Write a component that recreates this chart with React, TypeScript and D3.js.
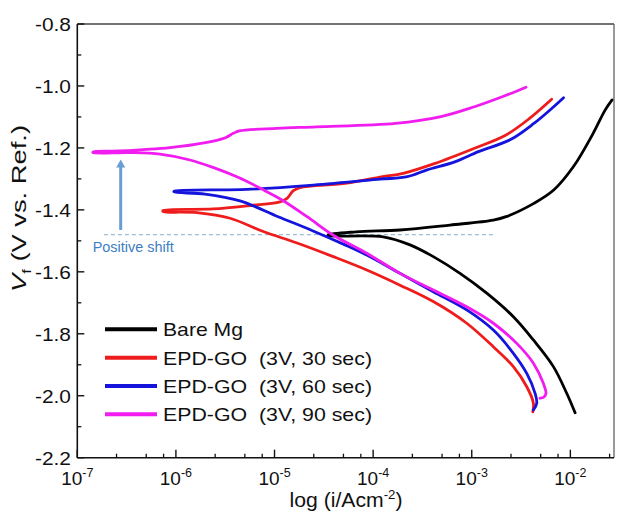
import React from "react";
import * as d3 from "d3";

const W = 617;
const H = 514;
const M = { left: 77.3, right: 3, top: 24, bottom: 56.3 };

// x domain (current density, A/cm2) and y domain (potential, V)
const X_DOMAIN: [number, number] = [1e-7, 0.0277];
const Y_DOMAIN: [number, number] = [-2.2, -0.8];

const X_MAJOR_EXP = [-7, -6, -5, -4, -3, -2];
const X_MINOR_MANT = [2.5, 5, 7.5];
const Y_MAJOR = [-2.2, -2.0, -1.8, -1.6, -1.4, -1.2, -1.0, -0.8];
const Y_MINOR = [-2.1, -1.9, -1.7, -1.5, -1.3, -1.1, -0.9];

// ---- data: log10(i) and potential V, cathodic branch (from Ecorr outward) and anodic branch
const bareCathLogI = [-4.457, -3.897, -3.626, -3.39, -3.119, -2.848, -2.578, -2.375, -2.172, -2.037, -1.952];
const bareCathV = [-1.483, -1.487, -1.513, -1.551, -1.605, -1.669, -1.745, -1.82, -1.906, -1.992, -2.055];
const bareAnLogI = [-4.457, -4.174, -3.727, -3.22, -2.781, -2.652, -2.37, -2.169, -1.97, -1.769, -1.648, -1.577];
const bareAnV = [-1.481, -1.471, -1.465, -1.449, -1.433, -1.422, -1.379, -1.336, -1.261, -1.153, -1.078, -1.045];

const go30CathLogI = [-6.131, -5.786, -5.451, -5.114, -4.772, -4.404, -4.065, -3.727, -3.39, -3.051, -2.781, -2.578, -2.442, -2.375, -2.381];
const go30CathV = [-1.405, -1.409, -1.427, -1.47, -1.507, -1.551, -1.594, -1.643, -1.696, -1.766, -1.842, -1.906, -1.971, -2.024, -2.052];
const go30AnLogI = [-6.131, -5.624, -5.279, -4.944, -4.873, -4.809, -4.741, -4.268, -3.93, -3.694, -3.372, -2.972, -2.652, -2.411, -2.19];
const go30AnV = [-1.402, -1.397, -1.387, -1.374, -1.363, -1.338, -1.328, -1.314, -1.294, -1.282, -1.25, -1.201, -1.158, -1.104, -1.043];

const go60CathLogI = [-6.019, -5.705, -5.35, -4.964, -4.609, -4.285, -4.065, -3.727, -3.39, -3.051, -2.781, -2.578, -2.442, -2.358, -2.341, -2.375];
const go60CathV = [-1.342, -1.349, -1.371, -1.422, -1.468, -1.513, -1.546, -1.605, -1.664, -1.723, -1.788, -1.863, -1.928, -1.992, -2.024, -2.046];
const go60AnLogI = [-6.019, -5.282, -4.606, -3.93, -3.653, -3.453, -3.172, -2.932, -2.612, -2.37, -2.169, -2.069];
const go60AnV = [-1.34, -1.334, -1.32, -1.301, -1.293, -1.271, -1.245, -1.212, -1.174, -1.121, -1.067, -1.038];

const go90CathLogI = [-6.841, -6.466, -6.161, -5.857, -5.624, -5.37, -5.127, -4.924, -4.67, -4.407, -4.065, -3.727, -3.39, -3.051, -2.781, -2.544, -2.375, -2.274, -2.247, -2.267, -2.307];
const go90CathV = [-1.215, -1.215, -1.22, -1.239, -1.263, -1.295, -1.333, -1.368, -1.422, -1.481, -1.54, -1.605, -1.659, -1.713, -1.766, -1.831, -1.895, -1.96, -1.992, -2.004, -2.008];
const go90AnLogI = [-6.841, -6.581, -6.06, -5.699, -5.498, -5.418, -5.358, -4.977, -4.576, -3.774, -3.312, -2.972, -2.691, -2.45];
const go90AnV = [-1.213, -1.21, -1.199, -1.183, -1.167, -1.153, -1.145, -1.137, -1.132, -1.121, -1.099, -1.067, -1.035, -1.004];

const SERIES_LABELS = ["Bare Mg", "EPD-GO  (3V, 30 sec)", "EPD-GO  (3V, 60 sec)", "EPD-GO  (3V, 90 sec)"];
const SERIES_COLORS = ["#000000", "#ee1c1c", "#1414dc", "#f01cf0"];

// annotation (data coordinates)
const SHIFT_V = -1.48;
const SHIFT_LOGI_RANGE = [-6.73, -2.78];
const ARROW_LOGI = -6.56;
const ARROW_V_RANGE = [-1.465, -1.237];

const FONT = "'Liberation Sans', Arial, Helvetica, sans-serif";

type Pt = [number, number];

function branch(logI: number[], v: number[]): Pt[] {
  return logI.map((l, k) => [Math.pow(10, l), v[k]] as Pt);
}

function curve(cl: number[], cv: number[], al: number[], av: number[]): Pt[] {
  const cath = branch(cl, cv).reverse();
  const an = branch(al, av);
  return cath.concat(an);
}

export default function App() {
  const x = d3.scaleLog().domain(X_DOMAIN).range([M.left, W - M.right]);
  const y = d3.scaleLinear().domain(Y_DOMAIN).range([H - M.bottom, M.top]);
  const line = d3
    .line<Pt>()
    .x((d) => x(d[0]))
    .y((d) => y(d[1]))
    .curve(d3.curveCatmullRom.alpha(0.5));

  const series: Pt[][] = [
    curve(bareCathLogI, bareCathV, bareAnLogI, bareAnV),
    curve(go30CathLogI, go30CathV, go30AnLogI, go30AnV),
    curve(go60CathLogI, go60CathV, go60AnLogI, go60AnV),
    curve(go90CathLogI, go90CathV, go90AnLogI, go90AnV),
  ];

  const x0 = M.left;
  const x1 = W - M.right;
  const y0 = M.top;
  const y1 = H - M.bottom;

  const minorX: number[] = [];
  X_MAJOR_EXP.forEach((e) =>
    X_MINOR_MANT.forEach((m) => {
      const v = m * Math.pow(10, e);
      if (v < X_DOMAIN[1]) minorX.push(v);
    })
  );

  const legendX0 = 105;
  const legendX1 = 157;
  const legendY = [329.3, 357.7, 386, 414.3];

  const ax = x(Math.pow(10, ARROW_LOGI));
  const ayBottom = y(ARROW_V_RANGE[0]);
  const ayTop = y(ARROW_V_RANGE[1]);

  return (
    <svg
      width={W}
      height={H}
      style={{ position: "absolute", left: 0, top: 0, background: "#fff" }}
      fontFamily={FONT}
    >
      <rect x={0} y={0} width={W} height={H} fill="#fff" />
      <defs>
        <clipPath id="plot">
          <rect x={x0} y={y0} width={x1 - x0} height={y1 - y0} />
        </clipPath>
      </defs>

      {/* dashed reference line */}
      <line
        x1={x(Math.pow(10, SHIFT_LOGI_RANGE[0]))}
        x2={x(Math.pow(10, SHIFT_LOGI_RANGE[1]))}
        y1={y(SHIFT_V)}
        y2={y(SHIFT_V)}
        stroke="#9dbfd6"
        strokeWidth={1.3}
        strokeDasharray="4,3"
      />

      {/* arrow */}
      <line x1={ax} x2={ax} y1={ayBottom} y2={ayTop + 6} stroke="#6a9ed2" strokeWidth={3} />
      <path d={`M${ax - 4.5},${ayTop + 8} L${ax},${ayTop} L${ax + 4.5},${ayTop + 8} Z`} fill="#6a9ed2" />
      <text x={92.7} y={252} fontSize={15} fill="#3d7ebf" textLength={81} lengthAdjust="spacingAndGlyphs">
        Positive shift
      </text>

      {/* curves */}
      <g clipPath="url(#plot)">
        {series.map((s, k) => (
          <path
            key={k}
            d={line(s) || ""}
            fill="none"
            stroke={SERIES_COLORS[k]}
            strokeWidth={2.8}
            strokeLinejoin="round"
            strokeLinecap="round"
          />
        ))}
      </g>

      {/* frame */}
      <line x1={x0} x2={x1} y1={y0} y2={y0} stroke="#444" strokeWidth={1.4} />
      <line x1={x1} x2={x1} y1={y0} y2={y1} stroke="#555" strokeWidth={1.2} />
      <line x1={x0} x2={x0} y1={y0} y2={y1} stroke="#111" strokeWidth={1.6} />
      <line x1={x0} x2={x1} y1={y1} y2={y1} stroke="#111" strokeWidth={1.6} />

      {/* y ticks */}
      {Y_MAJOR.map((v) => (
        <g key={"ym" + v}>
          <line x1={x0} x2={x0 + 7} y1={y(v)} y2={y(v)} stroke="#111" strokeWidth={1.4} />
          <text
            x={71}
            y={y(v)}
            dy="0.36em"
            textAnchor="end"
            fontSize={19}
            fill="#111"
            textLength={36}
            lengthAdjust="spacingAndGlyphs"
          >
            {d3.format(".1f")(v).replace("−", "-")}
          </text>
        </g>
      ))}
      {Y_MINOR.map((v) => (
        <line key={"yn" + v} x1={x0} x2={x0 + 4} y1={y(v)} y2={y(v)} stroke="#111" strokeWidth={1.3} />
      ))}

      {/* x ticks */}
      {X_MAJOR_EXP.map((e) => {
        const xv = x(Math.pow(10, e));
        return (
          <g key={"xm" + e}>
            <line x1={xv} x2={xv} y1={y1} y2={y1 - 8} stroke="#111" strokeWidth={1.4} />
            <text x={xv} y={485} textAnchor="middle" fontSize={19} fill="#111">
              10
              <tspan fontSize={12.5} dy={-8}>
                {String(e)}
              </tspan>
            </text>
          </g>
        );
      })}
      {minorX.map((v, k) => (
        <line key={"xn" + k} x1={x(v)} x2={x(v)} y1={y1} y2={y1 - 4} stroke="#111" strokeWidth={1.3} />
      ))}

      {/* axis titles */}
      <text x={346} y={507} textAnchor="middle" fontSize={20} fill="#111" textLength={113} lengthAdjust="spacingAndGlyphs">
        log (i/Acm
        <tspan fontSize={12.5} dy={-8}>
          -2
        </tspan>
        <tspan dy={8}>)</tspan>
      </text>
      <text
        transform="translate(25.5,208.5) rotate(-90)"
        textAnchor="middle"
        fontSize={20}
        fill="#111"
        textLength={167}
        lengthAdjust="spacingAndGlyphs"
      >
        <tspan fontStyle="italic">V</tspan>
        <tspan fontSize={12} dy={5}>
          f
        </tspan>
        <tspan dy={-5}> (V vs. Ref.)</tspan>
      </text>

      {/* legend */}
      {SERIES_LABELS.map((lab, k) => (
        <g key={"lg" + k}>
          <line x1={legendX0} x2={legendX1} y1={legendY[k]} y2={legendY[k]} stroke={SERIES_COLORS[k]} strokeWidth={4} />
          <text
            x={163}
            y={legendY[k] + 6.8}
            fontSize={19}
            fill="#111"
            textLength={k === 0 ? 80 : 209}
            lengthAdjust="spacingAndGlyphs"
            style={{ whiteSpace: "pre" }}
          >
            {lab}
          </text>
        </g>
      ))}
    </svg>
  );
}
